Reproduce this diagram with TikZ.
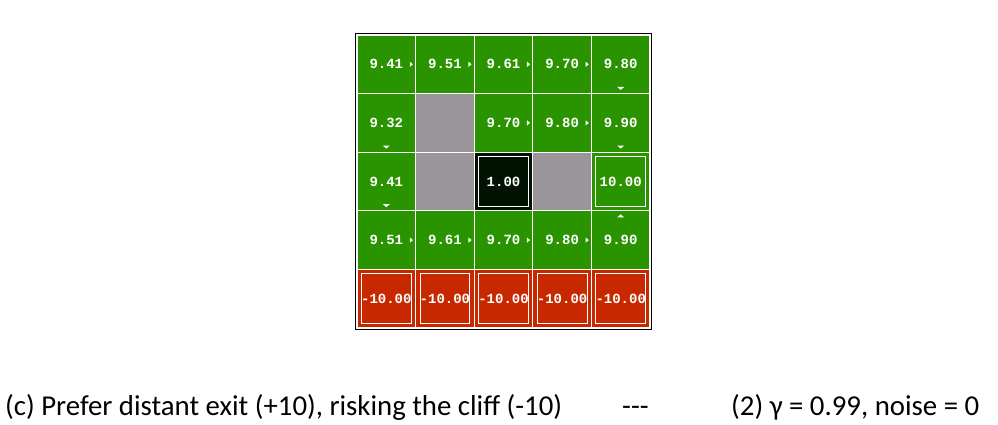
\documentclass[tikz,border=0pt]{standalone}
\usepackage{fontspec}
\setmainfont{Carlito}
\newfontfamily\cellfnt{Liberation Mono}
\definecolor{gwgreen}{RGB}{42,148,0}
\definecolor{gwred}{RGB}{200,40,0}
\definecolor{gwgray}{RGB}{153,149,153}
\definecolor{gwdark}{RGB}{2,18,2}
\tikzset{
  cellbox/.style={minimum width=58.6pt, minimum height=58.6pt, inner sep=0pt, draw=white, line width=1.3pt, text=white, font=\cellfnt\bfseries\fontsize{14}{15}\selectfont},
  gcell/.style={cellbox, fill=gwgreen},
  rcell/.style={cellbox, fill=gwred},
  wcell/.style={cellbox, fill=gwgray},
  kcell/.style={cellbox, fill=gwdark},
  innersq/.style={draw=white, line width=0.8pt},
  arr/.style={fill=white, draw=none},
  captxt/.style={font=\fontsize{28.8}{34}\selectfont, inner sep=0pt, anchor=base west}
}
\begin{document}
\begin{tikzpicture}[x=1pt,y=1pt]
\useasboundingbox (0,0) rectangle (998,-425);
\fill[white] (0,0) rectangle (998,-425);
% cells
\def\s{58.6}
\def\xo{357}
\def\yo{-35}
\newcommand\cellat[5]{\node[#3] (#1) at ({\xo+(#2+0.5)*\s},{\yo-(#4+0.5)*\s}) {#5};}
% row 0
\cellat{c00}{0}{gcell}{0}{9.41}
\cellat{c01}{1}{gcell}{0}{9.51}
\cellat{c02}{2}{gcell}{0}{9.61}
\cellat{c03}{3}{gcell}{0}{9.70}
\cellat{c04}{4}{gcell}{0}{9.80}
% row 1
\cellat{c10}{0}{gcell}{1}{9.32}
\cellat{c11}{1}{wcell}{1}{}
\cellat{c12}{2}{gcell}{1}{9.70}
\cellat{c13}{3}{gcell}{1}{9.80}
\cellat{c14}{4}{gcell}{1}{9.90}
% row 2
\cellat{c20}{0}{gcell}{2}{9.41}
\cellat{c21}{1}{wcell}{2}{}
\cellat{c22}{2}{kcell}{2}{1.00}
\cellat{c23}{3}{wcell}{2}{}
\cellat{c24}{4}{gcell}{2}{10.00}
% row 3
\cellat{c30}{0}{gcell}{3}{9.51}
\cellat{c31}{1}{gcell}{3}{9.61}
\cellat{c32}{2}{gcell}{3}{9.70}
\cellat{c33}{3}{gcell}{3}{9.80}
\cellat{c34}{4}{gcell}{3}{9.90}
% row 4
\cellat{c40}{0}{rcell}{4}{-10.00}
\cellat{c41}{1}{rcell}{4}{-10.00}
\cellat{c42}{2}{rcell}{4}{-10.00}
\cellat{c43}{3}{rcell}{4}{-10.00}
\cellat{c44}{4}{rcell}{4}{-10.00}
% terminal inner squares
\foreach \n in {c22,c24,c40,c41,c42,c43,c44}{
  \draw[innersq] ([shift={(5,-5)}]\n.north west) rectangle ([shift={(-5,5)}]\n.south east);
}
% right arrows
\foreach \n in {c00,c01,c02,c03,c12,c13,c30,c31,c32,c33}{
  \fill[arr] ([shift={(-3.3,0)}]\n.east) -- ([shift={(-6.5,2.6)}]\n.east) -- ([shift={(-6.5,-2.6)}]\n.east) -- cycle;
}
% down arrows
\foreach \n in {c04,c10,c14,c20}{
  \fill[arr] ([shift={(0,4.3)}]\n.south) -- ([shift={(-3.5,7.3)}]\n.south) -- ([shift={(3.5,7.3)}]\n.south) -- cycle;
}
% up arrows
\foreach \n in {c34}{
  \fill[arr] ([shift={(0,-4.3)}]\n.north) -- ([shift={(-3.5,-7.3)}]\n.north) -- ([shift={(3.5,-7.3)}]\n.north) -- cycle;
}
% outer frame (on top)
\draw[black, line width=1.3pt] (c00.north west) ++(-0.7,0.7) rectangle ([shift={(0.7,-0.7)}]c44.south east);
% captions
\node[captxt] (capl) at (5,-415) {(c) Prefer distant exit (+10), risking the cliff (-10)};
\node[captxt] (capm) at (622,-415) {-{}-{}-};
\node[captxt] (capr) at (731,-415) {(2) γ = 0.99, noise = 0};
\end{tikzpicture}
\end{document}
